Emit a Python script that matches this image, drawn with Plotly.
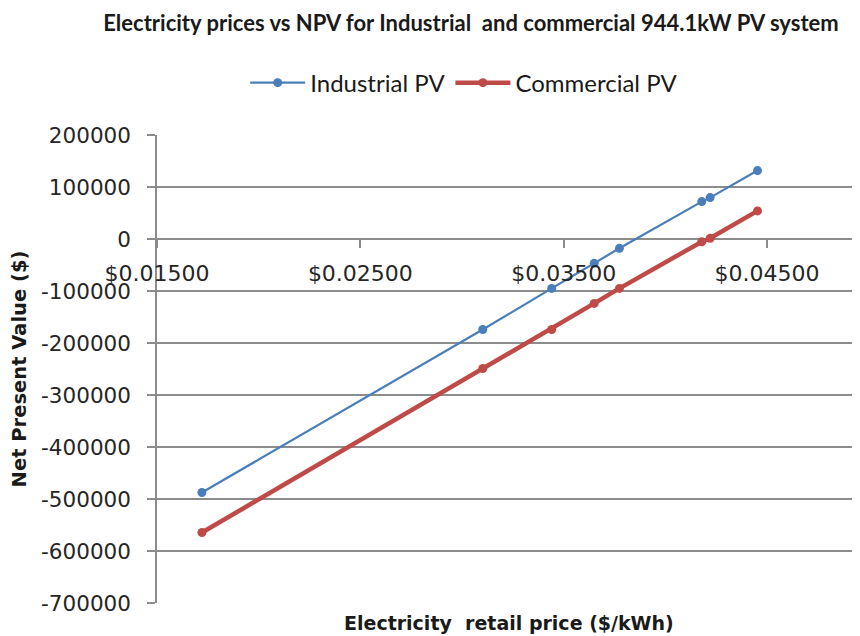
import plotly.graph_objects as go

# ---- data ----
price = [0.01721, 0.03102, 0.03441, 0.03650, 0.03774, 0.04179, 0.04220, 0.04453]
industrial_npv = [-487500, -174000, -95000, -46800, -17900, 71900, 79600, 131600]
commercial_npv = [-564500, -249100, -174000, -123900, -95000, -5200, 1300, 54000]

y_tickvals = [200000, 100000, 0, -100000, -200000, -300000, -400000, -500000, -600000, -700000]
y_ticktext = ["200000", "100000", "0", "-100000", "-200000", "-300000", "-400000", "-500000", "-600000", "-700000"]
x_tickvals = [0.015, 0.025, 0.035, 0.045]
x_ticktext = ["$0.01500", "$0.02500", "$0.03500", "$0.04500"]

title_text = "Electricity prices vs NPV for Industrial  and commercial 944.1kW PV system"
x_title = "Electricity  retail price ($/kWh)"
y_title = "Net Present Value ($)"

BLUE = "#4A7EBB"
RED = "#BE4B48"
GRID = "#8C8C8C"
NARROW = "Lato, sans-serif"

fig = go.Figure()
fig.add_trace(go.Scatter(
    x=price, y=industrial_npv, name="Industrial PV", mode="lines+markers",
    line=dict(color=BLUE, width=2.2), marker=dict(color=BLUE, size=9, symbol="circle"),
))
fig.add_trace(go.Scatter(
    x=price, y=commercial_npv, name="Commercial PV", mode="lines+markers",
    line=dict(color=RED, width=4.5), marker=dict(color=RED, size=9, symbol="circle"),
))

# the page body adds an 8px offset, so the figure is 852x628
fig.update_layout(
    width=852, height=628,
    margin=dict(l=149, r=0, t=127, b=33, autoexpand=False),
    paper_bgcolor="white", plot_bgcolor="white",
    title=dict(text="<b>" + title_text + "</b>", x=0.5434, xanchor="center", y=0.976, yanchor="middle",
               font=dict(family=NARROW, size=22, color="#1a1a1a")),
    legend=dict(orientation="h", x=0.437, xanchor="center", y=1.111, yanchor="middle",
                font=dict(family=NARROW, size=24, color="#1a1a1a"), itemwidth=55,
                tracegroupgap=0),
    xaxis=dict(
        range=[0.015, 0.04957], anchor="free", position=7/9, automargin=False,
        tickvals=x_tickvals, ticktext=x_ticktext,
        ticks="outside", ticklen=8, tickcolor=GRID, tickwidth=1.5,
        showgrid=False, zeroline=False, showline=False,
        tickfont=dict(family="DejaVu Sans", size=22, color="#262626"),
        ticklabelstandoff=7,
    ),
    yaxis=dict(
        range=[-700000, 200000], tickvals=y_tickvals, ticktext=y_ticktext, automargin=False,
        showgrid=True, gridcolor=GRID, gridwidth=1.5,
        zeroline=True, zerolinecolor=GRID, zerolinewidth=1.5,
        showline=True, linecolor=GRID, linewidth=1.5,
        ticks="outside", ticklen=8, tickcolor=GRID, tickwidth=1.5,
        tickfont=dict(family="DejaVu Sans", size=21.5, color="#262626"),
        ticklabelstandoff=12,
        title=dict(text="<b>" + y_title + "</b>", standoff=14,
                   font=dict(family="DejaVu Sans", size=19.5, color="#1a1a1a")),
    ),
    annotations=[dict(
        text="<b>" + x_title + "</b>", xref="paper", yref="paper", x=0.5, y=0,
        xanchor="center", yanchor="top", yshift=-7, showarrow=False,
        font=dict(family="DejaVu Sans", size=19, color="#1a1a1a"),
    )],
)

fig.write_html("out.html")
